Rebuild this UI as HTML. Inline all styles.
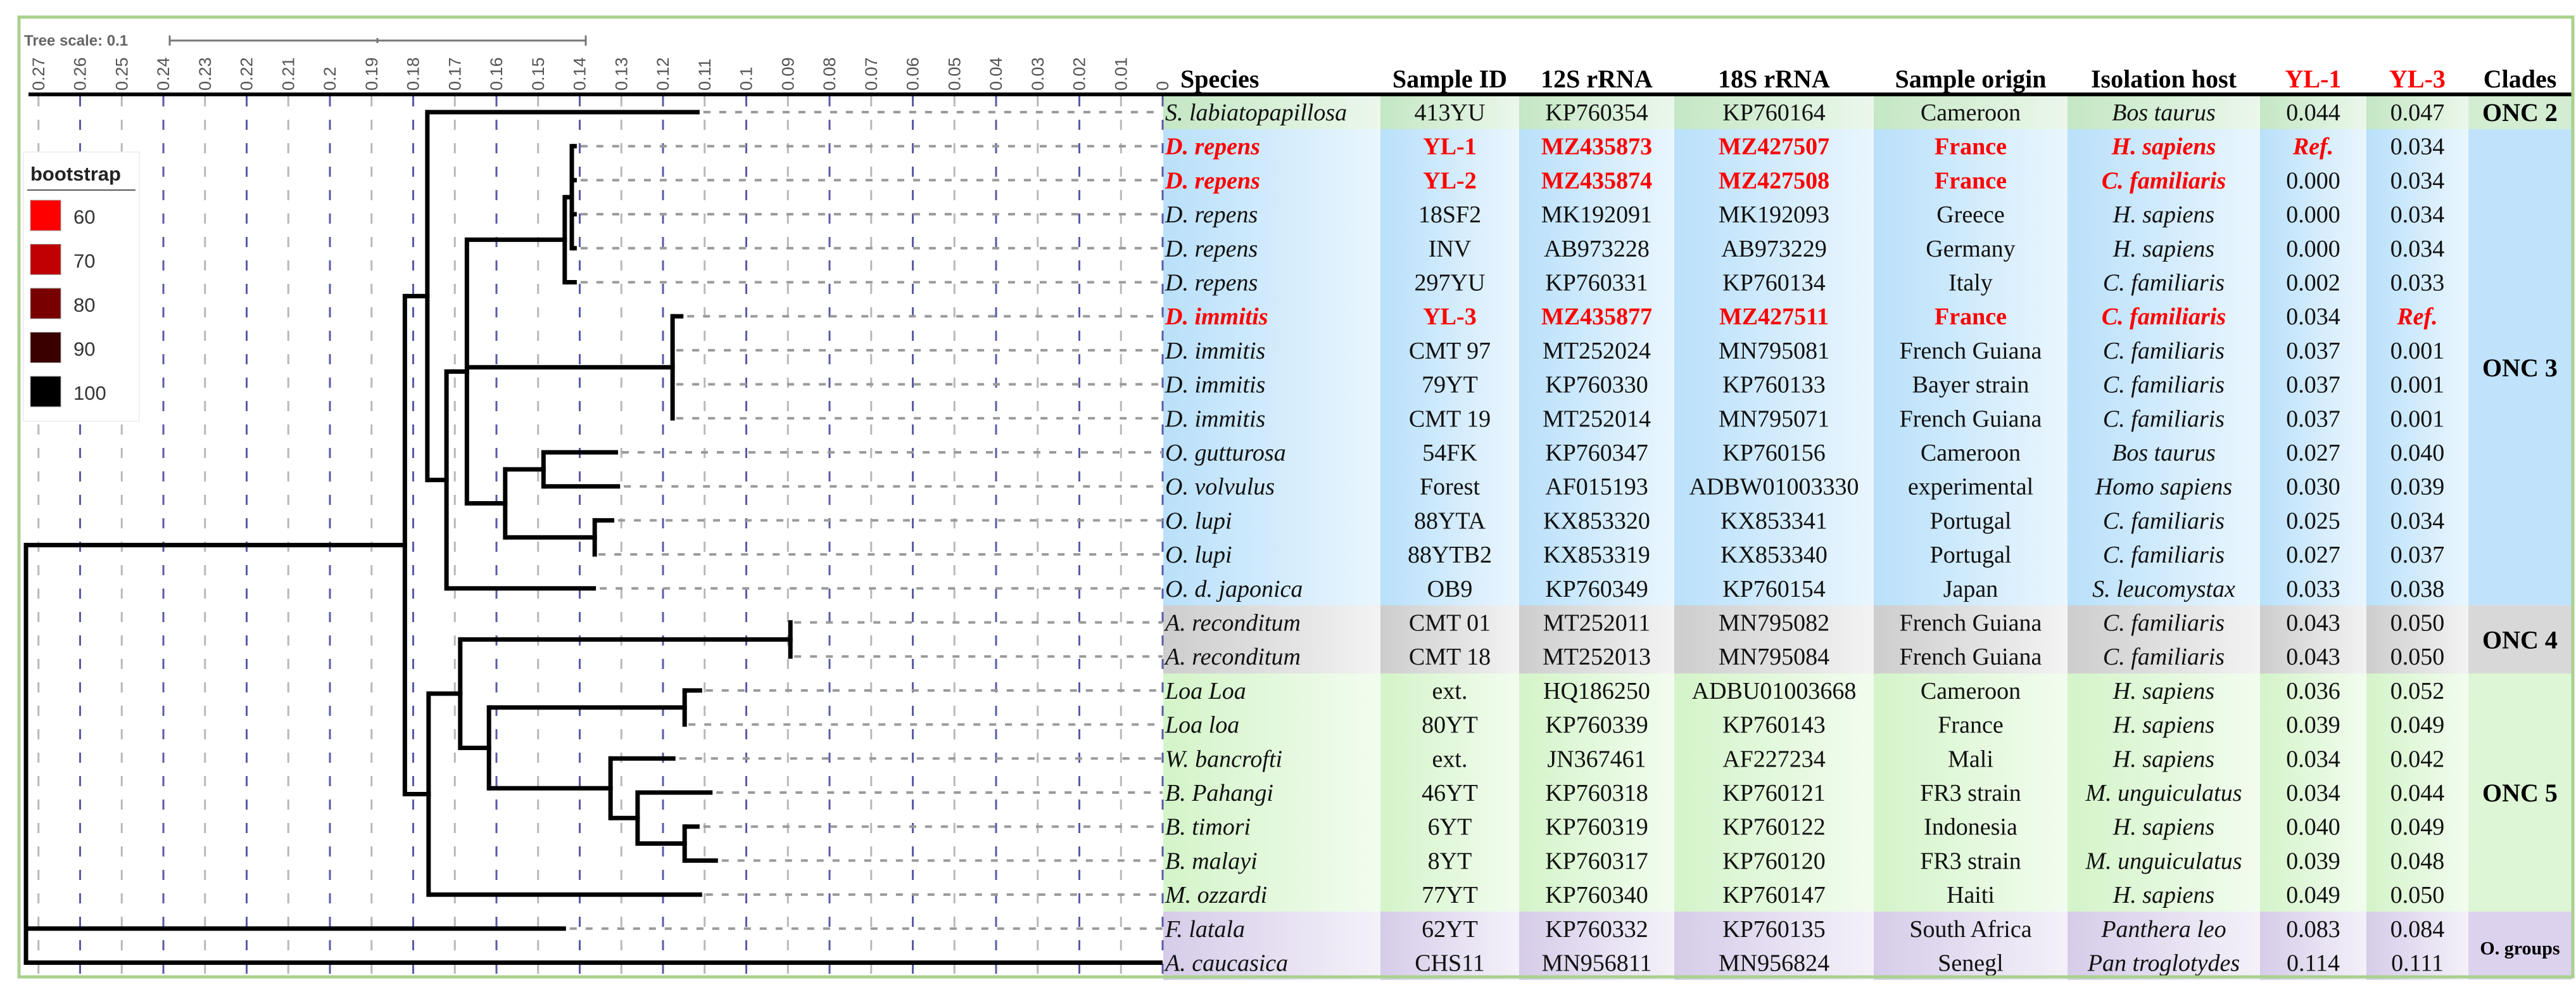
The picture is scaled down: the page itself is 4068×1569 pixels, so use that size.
<!DOCTYPE html>
<html><head><meta charset="utf-8"><style>
html,body{margin:0;padding:0;background:#fff;}
svg{display:block;}
.hdr{font-family:"Liberation Serif",serif;font-weight:bold;font-size:40px;}
.cell{font-family:"Liberation Serif",serif;font-size:38px;}
.tick{font-family:"Liberation Sans",sans-serif;font-size:27px;fill:#555;}
</style></head><body>
<svg id="fig" xmlns="http://www.w3.org/2000/svg" width="4068" height="1569" viewBox="0 0 4068 1569">
<rect x="0" y="0" width="4068" height="1569" fill="#fff"/>
<g id="bg"></g><g id="grid"></g><g id="tree"></g><g id="table"></g>
<rect x="30" y="27" width="4033" height="1515" fill="none" stroke="#a9d18e" stroke-width="5"/>
<text x="38" y="72" font-family="Liberation Sans, sans-serif" font-weight="bold" font-size="24" fill="#666">Tree scale: 0.1</text>
<g stroke="#777" stroke-width="3">
<line x1="268" y1="64" x2="925" y2="64"/><line x1="268" y1="56" x2="268" y2="72"/><line x1="925" y1="56" x2="925" y2="72"/><line x1="596" y1="60" x2="596" y2="68"/>
</g>
<g id="legend">
<rect x="37" y="240" width="183" height="425" fill="#fff" stroke="#f0f0f0" stroke-width="2"/>
<text x="48" y="285" font-family="Liberation Sans, sans-serif" font-weight="bold" font-size="31" fill="#222">bootstrap</text>
<line x1="43" y1="300" x2="214" y2="300" stroke="#555" stroke-width="2"/>
</g>
</svg>
<script>
// ---- axis data ----
const tickValues = [0.27,0.26,0.25,0.24,0.23,0.22,0.21,0.2,0.19,0.18,0.17,0.16,0.15,0.14,0.13,0.12,0.11,0.1,0.09,0.08,0.07,0.06,0.05,0.04,0.03,0.02,0.01,0];
const tickLabels = ["0.27","0.26","0.25","0.24","0.23","0.22","0.21","0.2","0.19","0.18","0.17","0.16","0.15","0.14","0.13","0.12","0.11","0.1","0.09","0.08","0.07","0.06","0.05","0.04","0.03","0.02","0.01","0"];
// ---- legend data ----
const legendValues = ["60","70","80","90","100"];
const legendColors = ["#ff0000","#c00000","#780000","#3a0000","#000000"];
// ---- tree data (node value = axis reading at node position) ----
const nodeIds    = ["root","A","B","D","E","F","F1","H","G","I","J","C","K","L","M","N","O","P","Q"];
const nodeParent = [null,"root","A","B","D","E","F","E","E","G","G","A","C","K","K","M","M","O","P"];
const nodeValue  = [0.273,0.182,0.1766,0.172,0.1671,0.1436,0.1419,0.1177,0.1579,0.1487,0.1364,0.1763,0.1687,0.0894,0.1618,0.1148,0.1326,0.1261,0.1148];
const tipParent  = ["B","F1","F1","F1","F1","F","H","H","H","H","I","I","J","J","D","L","L","N","N","O","P","Q","Q","C","root","root"];
const tipValue   = [0.1112,0.1407,0.1407,0.1407,0.1407,0.1407,0.1151,0.1177,0.1177,0.1177,0.1308,0.1303,0.1317,0.1364,0.1361,0.0894,0.0894,0.1106,0.1148,0.117,0.1081,0.1112,0.1068,0.1106,0.1433,0];
// ---- table data ----
const species = ["S. labiatopapillosa","D. repens","D. repens","D. repens","D. repens","D. repens","D. immitis","D. immitis","D. immitis","D. immitis","O. gutturosa","O. volvulus","O. lupi","O. lupi","O. d. japonica","A. reconditum","A. reconditum","Loa Loa","Loa loa","W.  bancrofti","B. Pahangi","B. timori","B. malayi","M. ozzardi","F. latala","A. caucasica"];
const sampleIds = ["413YU","YL-1","YL-2","18SF2","INV","297YU","YL-3","CMT 97","79YT","CMT 19","54FK","Forest","88YTA","88YTB2","OB9","CMT 01","CMT 18","ext.","80YT","ext.","46YT","6YT","8YT","77YT","62YT","CHS11"];
const rrna12 = ["KP760354","MZ435873","MZ435874","MK192091","AB973228","KP760331","MZ435877","MT252024","KP760330","MT252014","KP760347","AF015193","KX853320","KX853319","KP760349","MT252011","MT252013","HQ186250","KP760339","JN367461","KP760318","KP760319","KP760317","KP760340","KP760332","MN956811"];
const rrna18 = ["KP760164","MZ427507","MZ427508","MK192093","AB973229","KP760134","MZ427511","MN795081","KP760133","MN795071","KP760156","ADBW01003330","KX853341","KX853340","KP760154","MN795082","MN795084","ADBU01003668","KP760143","AF227234","KP760121","KP760122","KP760120","KP760147","KP760135","MN956824"];
const origins = ["Cameroon","France","France","Greece","Germany","Italy","France","French Guiana","Bayer strain","French Guiana","Cameroon","experimental","Portugal","Portugal","Japan","French Guiana","French Guiana","Cameroon","France","Mali","FR3 strain","Indonesia","FR3 strain","Haiti","South Africa","Senegl"];
const hosts = ["Bos taurus","H. sapiens","C. familiaris","H. sapiens","H. sapiens","C. familiaris","C. familiaris","C. familiaris","C. familiaris","C. familiaris","Bos taurus","Homo sapiens","C. familiaris","C. familiaris","S. leucomystax","C. familiaris","C. familiaris","H. sapiens","H. sapiens","H. sapiens","M. unguiculatus","H. sapiens","M. unguiculatus","H. sapiens","Panthera leo","Pan troglotydes"];
const yl1 = ["0.044","Ref.","0.000","0.000","0.000","0.002","0.034","0.037","0.037","0.037","0.027","0.030","0.025","0.027","0.033","0.043","0.043","0.036","0.039","0.034","0.034","0.040","0.039","0.049","0.083","0.114"];
const yl3 = ["0.047","0.034","0.034","0.034","0.034","0.033","Ref.","0.001","0.001","0.001","0.040","0.039","0.034","0.037","0.038","0.050","0.050","0.052","0.049","0.042","0.044","0.049","0.048","0.050","0.084","0.111"];
const highlighted = [1,2,6];
const rowGroup = [0,1,1,1,1,1,1,1,1,1,1,1,1,1,1,2,2,3,3,3,3,3,3,3,4,4];
const cladeNames = ["ONC 2","ONC 3","ONC 4","ONC 5","O. groups"];

const NS="http://www.w3.org/2000/svg";
function mk(tag,attrs,parent){const e=document.createElementNS(NS,tag);for(const k in attrs)e.setAttribute(k,attrs[k]);parent.appendChild(e);return e;}
const X0=1836, PX=6575;
function xScale(v){return X0 - v*PX;}
const ROW0=177, ROWH=53.7;
function yRow(i){return ROW0 + i*ROWH;}

const grid=document.getElementById('grid'), tree=document.getElementById('tree'), table=document.getElementById('table'), bg=document.getElementById('bg');

// axis
tickValues.forEach((v,i)=>{
  const x=xScale(v);
  const ln=mk('line',{x1:x,y1:152,x2:x,y2:1538,stroke:(i%2===1)?'#5a5aa6':'#b8b8b8','stroke-width':3,'stroke-dasharray':'16 21'},grid);
  
  
  const t=mk('text',{class:'tick',transform:`translate(${x+9},143) rotate(-90)`},grid);
  t.textContent=tickLabels[i];
  
  
});
const axisLine=mk('line',{x1:45,y1:149,x2:4061,y2:149,stroke:'#000','stroke-width':6},grid);



// legend
const lg=document.getElementById('legend');
legendValues.forEach((v,i)=>{
  const y=316+i*69.5;
  const r=mk('rect',{x:48,y:y,width:48,height:48,fill:legendColors[i],stroke:'#999','stroke-width':1},lg);
  
  
  const t=mk('text',{x:116,y:y+37,'font-family':'Liberation Sans, sans-serif','font-size':31,fill:'#333'},lg);
  t.textContent=v;
  
  
});

// tree layout
const nx={}, ny={}, kids={};
nodeIds.forEach((id,i)=>{nx[id]=xScale(nodeValue[i]);kids[id]=[];});
nodeIds.forEach((id,i)=>{if(nodeParent[i])kids[nodeParent[i]].push({node:id});});
tipParent.forEach((p,i)=>kids[p].push({tip:i}));
function yOf(c){return c.tip!==undefined?yRow(c.tip):computeY(c.node);}
function computeY(id){if(ny[id]!==undefined)return ny[id];const ys=kids[id].map(yOf);ny[id]=(Math.min(...ys)+Math.max(...ys))/2;return ny[id];}
computeY('root');
const SW=7;
nodeIds.forEach((id,i)=>{
  const ys=kids[id].map(yOf);
  const v=mk('line',{x1:nx[id],y1:Math.min(...ys)-SW/2,x2:nx[id],y2:Math.max(...ys)+SW/2,stroke:'#000','stroke-width':SW},tree);
  
  
  if(nodeParent[i]){
    const h=mk('line',{x1:nx[nodeParent[i]],y1:ny[id],x2:nx[id]+SW/2,y2:ny[id],stroke:'#000','stroke-width':SW},tree);
    
    
  }
});
tipParent.forEach((p,i)=>{
  const y=yRow(i), xt=xScale(tipValue[i]);
  if(xt<X0-4){
    const d=mk('line',{x1:xt+6,y1:y,x2:X0,y2:y,stroke:'#9a9a9a','stroke-width':4,'stroke-dasharray':'11 14'},tree);
    
    
  }
  const h=mk('line',{x1:nx[p],y1:y,x2:xt,y2:y,stroke:'#000','stroke-width':SW},tree);
  
  
});

// table
const colEdges=[1837,2180,2399,2644,2959,3265,3569,3737,3898,4061];
const groupDark=["#c4e7c4","#b9e0fa","#cdcdcd","#d4f4c9","#d6cce9"];
const groupLight=["#ebf7eb","#eaf6fe","#f3f3f3","#f2fcef","#f4f1f9"];
const cladeFill=["#d3edd3","#c0e3fb","#d8d8d8","#ddf6d5","#dcd2ee"];
const defs=mk('defs',{},bg);
groupDark.forEach((c,g)=>{
  const lgd=mk('linearGradient',{id:'gr'+g,x1:0,y1:0,x2:1,y2:0},defs);
  mk('stop',{offset:0,'stop-color':c},lgd);
  mk('stop',{offset:1,'stop-color':groupLight[g]},lgd);
});
for(let i=0;i<species.length;i++){
  const g=rowGroup[i];
  for(let c=0;c<8;c++){
    const r=mk('rect',{x:colEdges[c],y:yRow(i)-ROWH/2,width:colEdges[c+1]-colEdges[c]+0.5,height:ROWH+0.5,fill:`url(#gr${g})`},bg);
    
    
  }
}
// clade column
cladeNames.forEach((n,g)=>{
  const rows=rowGroup.map((v,i)=>v===g?i:-1).filter(i=>i>=0);
  const y0=yRow(rows[0])-ROWH/2, y1=yRow(rows[rows.length-1])+ROWH/2;
  const r=mk('rect',{x:colEdges[8],y:y0,width:colEdges[9]-colEdges[8],height:y1-y0,fill:cladeFill[g]},bg);
  
  
  const t=mk('text',{class:'hdr','text-anchor':'middle',x:(colEdges[8]+colEdges[9])/2,y:(y0+y1)/2+14,style:`font-size:${g===4?30:40}px;fill:#000`},table);
  t.textContent=n;
  
  
});
// headers
const headers=["Species","Sample ID","12S rRNA","18S rRNA","Sample origin","Isolation host","YL-1","YL-3","Clades"];
headers.forEach((h,c)=>{
  const left=c===0;
  const t=mk('text',{class:'hdr','text-anchor':left?'start':'middle',x:left?1864:(colEdges[c]+colEdges[c+1])/2,y:138,style:'fill:'+((c===6||c===7)?'#ff0000':'#000')},table);
  t.textContent=h;
  
  
});
const cols=[species,sampleIds,rrna12,rrna18,origins,hosts,yl1,yl3];
for(let i=0;i<species.length;i++){
  const hl=highlighted.includes(i);
  cols.forEach((arr,c)=>{
    const val=arr[i];
    const isRef=val==='Ref.';
    const italic=(c===0||c===5||isRef);
    const red=(hl&&c<6)||isRef;
    const t=mk('text',{class:'cell','text-anchor':c===0?'start':'middle',x:c===0?1840:(colEdges[c]+colEdges[c+1])/2,y:yRow(i)+13,
      style:`font-style:${italic?'italic':'normal'};font-weight:${red?'bold':'normal'};fill:${red?'#ff0000':'#111'}`},table);
    t.textContent=val;
    
    
  });
}
</script>
</body></html>
